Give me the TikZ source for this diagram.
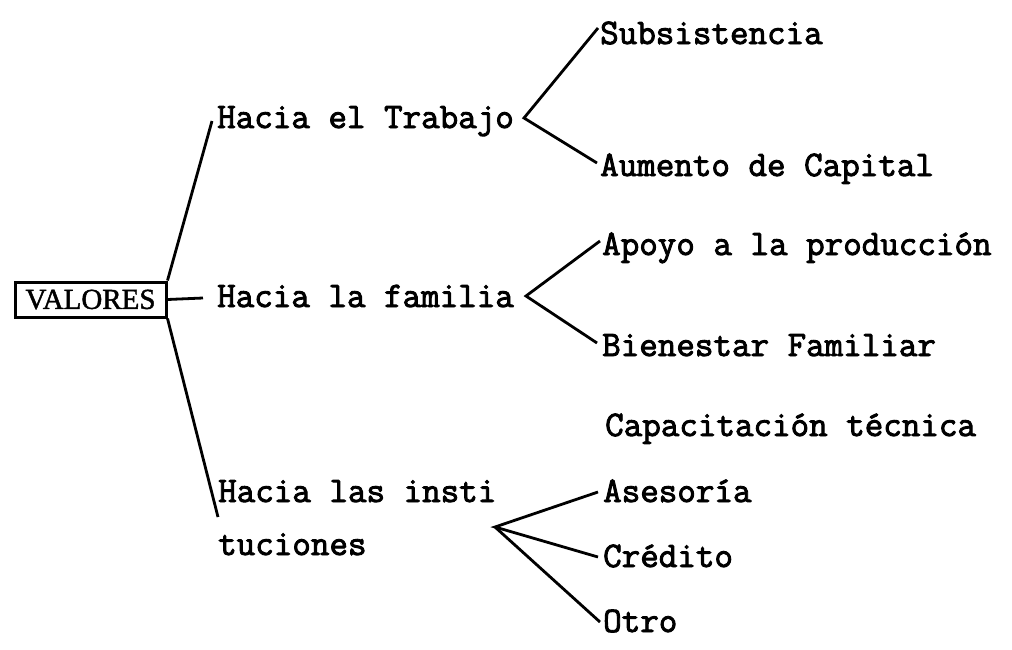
\documentclass[tikz,border=0pt]{standalone}
\usepackage{fontspec}
\newfontfamily\maquina[FakeBold=2.5]{Latin Modern Mono}
\newfontfamily\titulo[FakeBold=1.5]{Liberation Serif}
\tikzset{
  texto/.style={anchor=base west,inner sep=0pt,font=\maquina\fontsize{36}{53}\selectfont},
  caja/.style={rectangle,draw,line width=3pt,minimum width=151pt,minimum height=35pt,inner sep=0pt,font=\titulo\fontsize{29}{30}\selectfont},
  rama/.style={line width=2.8pt}
}
\begin{document}
\begin{tikzpicture}[x=1pt,y=-1pt]
\useasboundingbox (0,0) rectangle (1012,649);
\node (val) [caja] at (90.5,299.5) {VALORES};

\node (trab) [texto] at (217,128) {Hacia el Trabajo};
\node (fam) [texto] at (217,307) {Hacia la familia};
\node (inst) [texto,align=left] at (218,555) {Hacia las insti\\tuciones};

\node (sub) [texto] at (600,44) {Subsistencia};
\node (aum) [texto] at (600,176) {Aumento de Capital};
\node (apo) [texto] at (602,255) {Apoyo a la producción};
\node (bien) [texto] at (602,356) {Bienestar Familiar};
\node (cap) [texto] at (605,436) {Capacitación técnica};
\node (ase) [texto] at (603,502) {Asesoría};
\node (cre) [texto] at (603,567) {Crédito};
\node (otro) [texto] at (603,632) {Otro};

\coordinate (bt) at (524,118);
\coordinate (bf) at (526,296);
\coordinate (bi) at (495,527);

\draw [rama] (val.north east)--([xshift=-5pt,yshift=7pt]trab.base west);
\draw [rama] (val.east)--([xshift=-14pt,yshift=9pt]fam.base west);
\draw [rama] (val.south east)--([xshift=0pt,yshift=38pt]inst.base west);

\draw [rama] ([xshift=-2pt,yshift=16pt]sub.base west)--(bt)--([xshift=-3pt,yshift=13pt]aum.base west);
\draw [rama] ([xshift=-2pt,yshift=14pt]apo.base west)--(bf)--([xshift=-5pt,yshift=13pt]bien.base west);
\draw [rama] ([xshift=-5pt,yshift=10pt]ase.base west)--(bi)--([xshift=-5pt,yshift=10pt]cre.base west);
\draw [rama] (bi)--([xshift=-3pt,yshift=10pt]otro.base west);
\end{tikzpicture}
\end{document}
